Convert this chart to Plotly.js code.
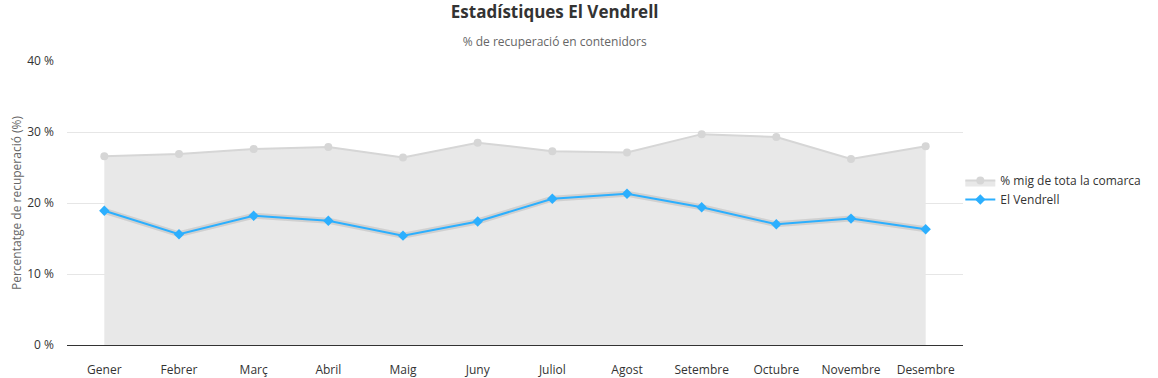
<!DOCTYPE html>
<html>
<head>
<meta charset="utf-8">
<script src="https://cdn.plot.ly/plotly-3.0.1.min.js"></script>
<style>html,body{margin:0;padding:0;background:#fff;}#chart{width:1158px;height:378px;}</style>
</head>
<body>
<div id="chart"></div>
<script>
const months = ["Gener","Febrer","Març","Abril","Maig","Juny","Juliol","Agost","Setembre","Octubre","Novembre","Desembre"];
const comarcaAvg = [26.6, 26.9, 27.6, 27.9, 26.4, 28.5, 27.3, 27.1, 29.7, 29.3, 26.2, 28.0];
const vendrell = [18.9, 15.6, 18.2, 17.5, 15.4, 17.4, 20.6, 21.3, 19.4, 17.0, 17.8, 16.3];
const yTicks = [0, 10, 20, 30, 40];
const yTickText = ["0 %", "10 %", "20 %", "30 %", "40 %"];

const FONT = "Open Sans, Noto Sans, sans-serif";

const traces = [
  {
    x: months, y: comarcaAvg, name: "% mig de tota la comarca",
    type: "scatter", mode: "lines+markers", fill: "tozeroy",
    fillcolor: "#e8e8e8",
    line: {color: "#d6d6d6", width: 2},
    marker: {symbol: "circle", size: 8, color: "#d6d6d6"}
  },
  {
    x: months, y: vendrell, name: "shadow", showlegend: false, hoverinfo: "skip",
    type: "scatter", mode: "lines",
    line: {color: "rgba(0,0,0,0.10)", width: 6}
  },
  {
    x: months, y: vendrell, name: "El Vendrell",
    type: "scatter", mode: "lines+markers",
    line: {color: "#2caffe", width: 2},
    marker: {symbol: "diamond", size: 8, color: "#2caffe"}
  }
];

const layout = {
  width: 1158, height: 378,
  paper_bgcolor: "#ffffff", plot_bgcolor: "#ffffff",
  font: {family: FONT, size: 12, color: "#333333"},
  margin: {l: 67, r: 195, t: 61, b: 33},
  title: {
    text: "<b>Estadístiques El Vendrell</b>",
    font: {family: FONT, size: 17, color: "#333333"},
    x: 0.479, xanchor: "center", xref: "container",
    y: 0.968, yanchor: "middle", yref: "container",
    subtitle: {text: "% de recuperació en contenidors", font: {family: FONT, size: 12, color: "#666666"}}
  },
  xaxis: {
    type: "category", range: [-0.5, 11.5],
    showgrid: false, zeroline: false,
    showline: true, linecolor: "#333333", linewidth: 1,
    ticks: "", ticklabelstandoff: 14,
    tickfont: {family: FONT, size: 12, color: "#333333"},
    fixedrange: true
  },
  yaxis: {
    range: [0, 40], tickmode: "array", tickvals: yTicks, ticktext: yTickText,
    showgrid: true, gridcolor: "#e6e6e6", gridwidth: 1,
    zeroline: false, showline: false, ticks: "",
    ticklabelstandoff: 12,
    tickfont: {family: FONT, size: 12, color: "#333333"},
    title: {text: "Percentatge de recuperació (%)", font: {family: FONT, size: 12, color: "#666666"}},
    automargin: false, fixedrange: true
  },
  legend: {
    x: 0.997, xanchor: "left", y: 0.546, yanchor: "middle",
    font: {family: FONT, size: 12, color: "#333333"},
    bgcolor: "rgba(0,0,0,0)", tracegroupgap: 2, itemwidth: 30
  },
  showlegend: true
};

Plotly.newPlot("chart", traces, layout, {displayModeBar: false, responsive: false, staticPlot: true});
</script>
</body>
</html>
